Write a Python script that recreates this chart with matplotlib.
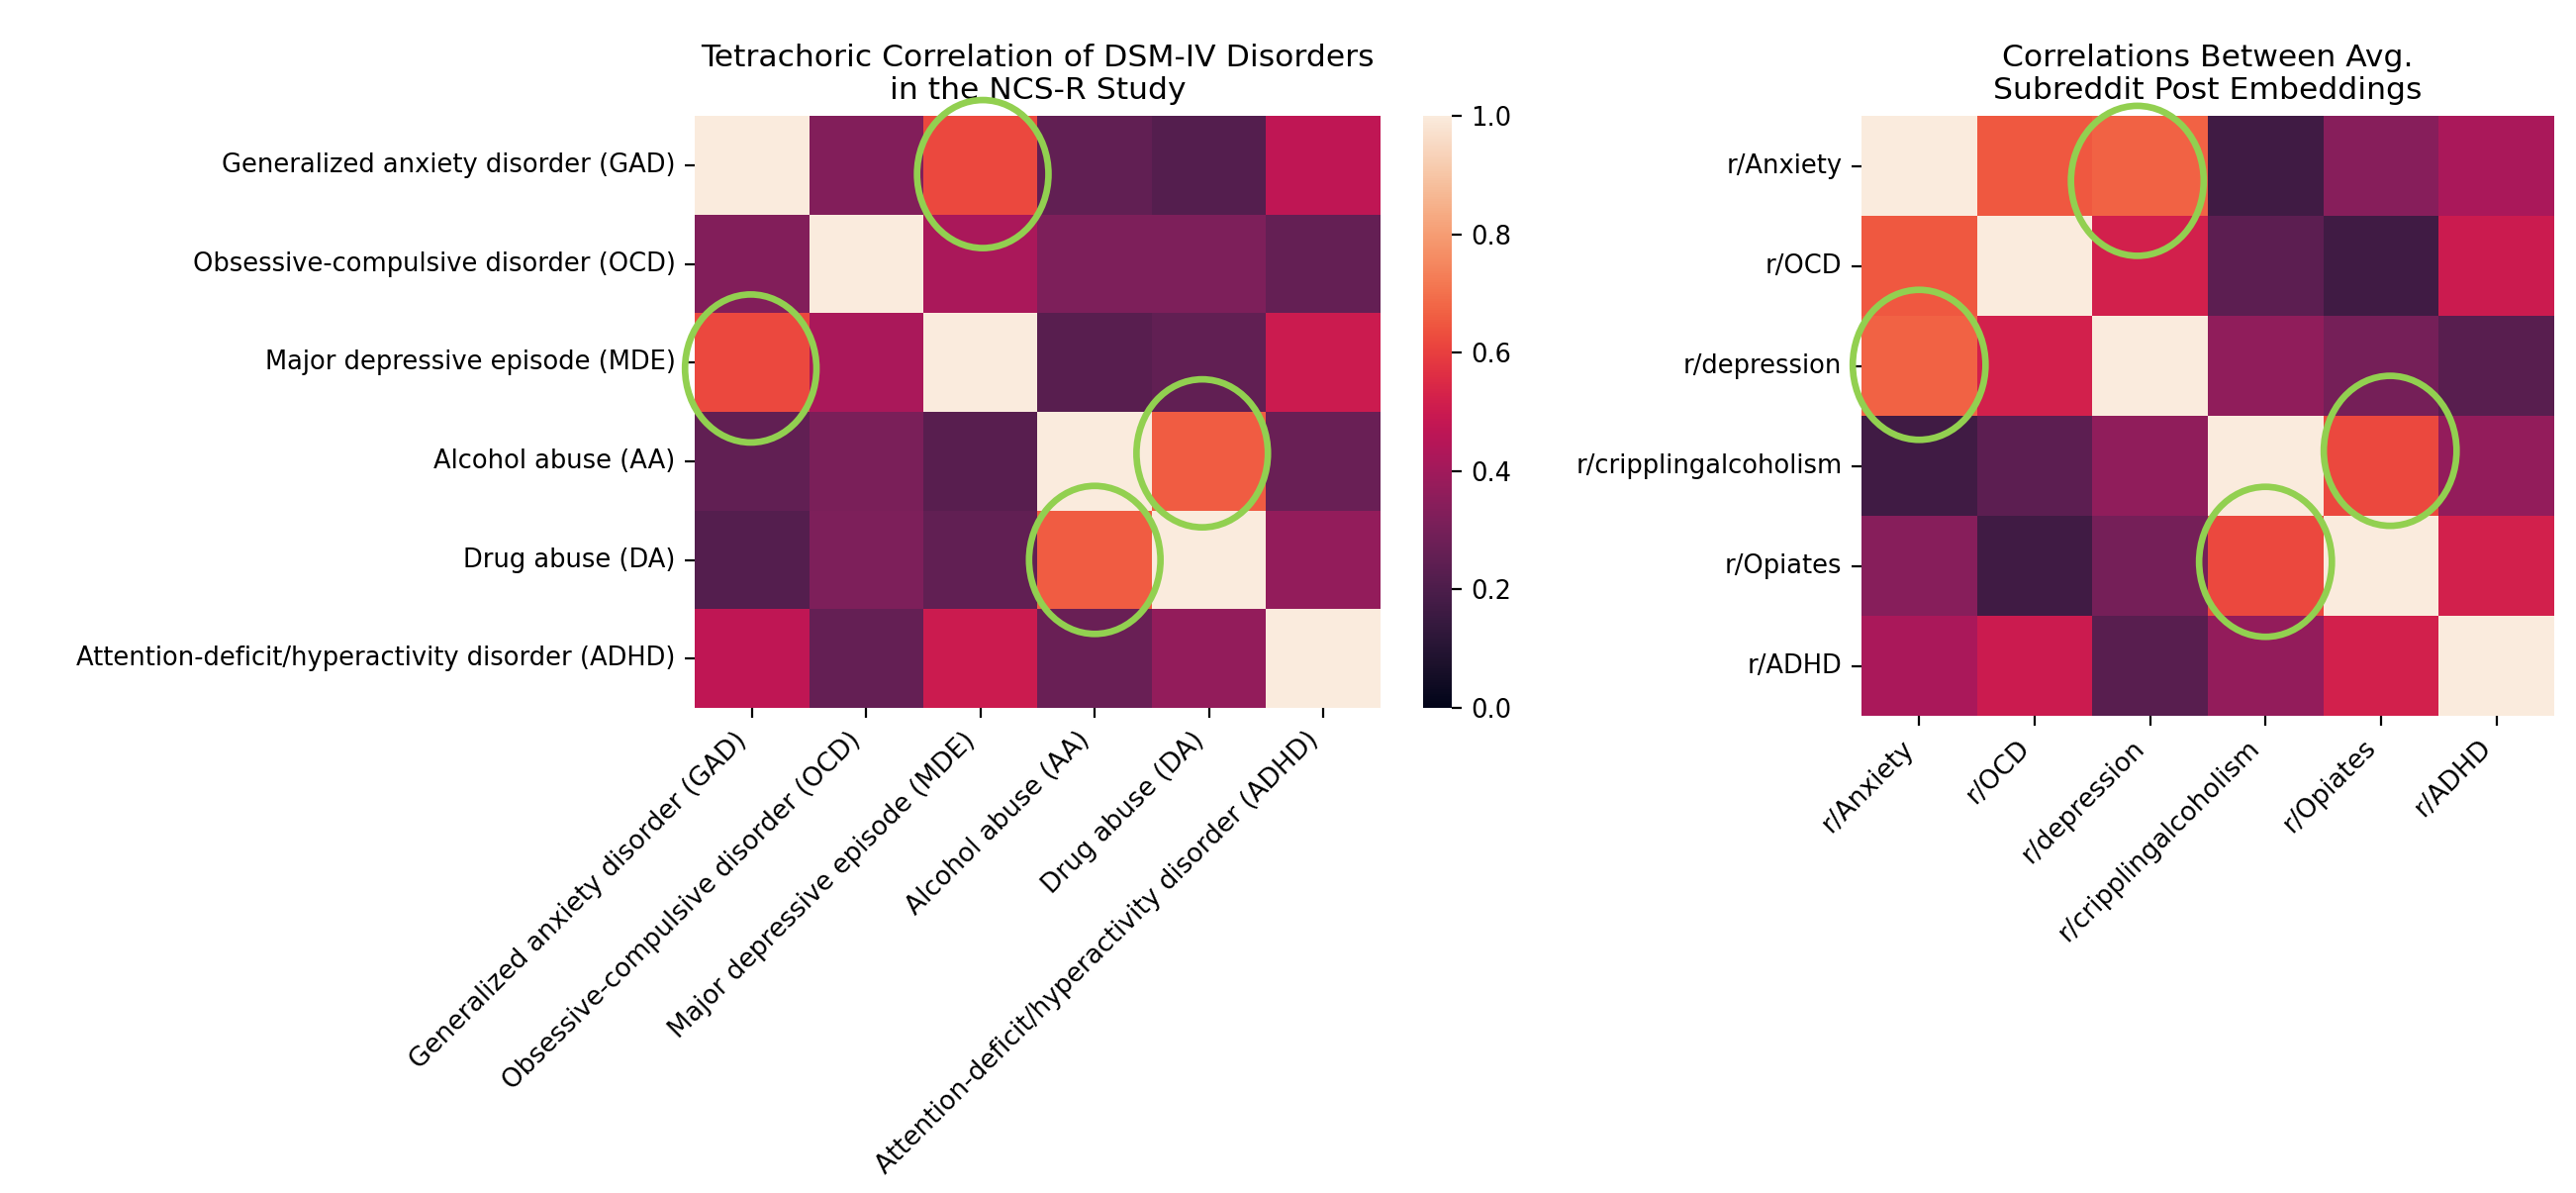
import numpy as np
import matplotlib
matplotlib.use("Agg")
import matplotlib.pyplot as plt
import seaborn as sns
from matplotlib.patches import Ellipse

# labels
dsm_labels = ["Generalized anxiety disorder (GAD)",
              "Obsessive-compulsive disorder (OCD)",
              "Major depressive episode (MDE)",
              "Alcohol abuse (AA)",
              "Drug abuse (DA)",
              "Attention-deficit/hyperactivity disorder (ADHD)"]
sub_labels = ["r/Anxiety", "r/OCD", "r/depression",
              "r/cripplingalcoholism", "r/Opiates", "r/ADHD"]

# tetrachoric correlations
dsm_corr = np.array([
    [1.00, 0.33, 0.62, 0.25, 0.22, 0.47],
    [0.33, 1.00, 0.42, 0.32, 0.32, 0.26],
    [0.62, 0.42, 1.00, 0.23, 0.25, 0.50],
    [0.25, 0.31, 0.23, 1.00, 0.66, 0.27],
    [0.22, 0.32, 0.25, 0.66, 1.00, 0.37],
    [0.47, 0.26, 0.50, 0.27, 0.37, 1.00],
])

# subreddit embedding correlations
sub_corr = np.array([
    [1.00, 0.65, 0.67, 0.17, 0.34, 0.42],
    [0.65, 1.00, 0.52, 0.24, 0.17, 0.50],
    [0.67, 0.52, 1.00, 0.36, 0.30, 0.23],
    [0.17, 0.24, 0.36, 1.00, 0.62, 0.37],
    [0.34, 0.17, 0.30, 0.62, 1.00, 0.52],
    [0.42, 0.50, 0.23, 0.37, 0.52, 1.00],
])

# highlighted cells (col, row) for the green circles
left_marks = [(2.52, 0.59), (0.49, 2.56), (4.44, 3.42), (3.50, 4.50)]
right_marks = [(2.39, 0.65), (0.50, 2.49), (4.58, 3.35), (3.50, 4.46)]

plt.rcParams['xtick.labelsize'] = 9.5
plt.rcParams['ytick.labelsize'] = 9.25
plt.rcParams['axes.titlesize'] = 11.3

fig = plt.figure(figsize=(13.015, 6.025), dpi=200)
ax1 = fig.add_axes([0.2697, 0.4066, 0.2662, 0.4963])
cax = fig.add_axes([0.5524, 0.4066, 0.0111, 0.4963])
ax2 = fig.add_axes([0.7226, 0.4000, 0.2689, 0.5029])

sns.heatmap(dsm_corr, ax=ax1, cbar_ax=cax, vmin=0, vmax=1,
            xticklabels=dsm_labels, yticklabels=dsm_labels)
sns.heatmap(sub_corr, ax=ax2, cbar=False, vmin=0, vmax=1,
            xticklabels=sub_labels, yticklabels=sub_labels)

ax1.set_title("Tetrachoric Correlation of DSM-IV Disorders\nin the NCS-R Study")
ax2.set_title("Correlations Between Avg.\nSubreddit Post Embeddings")

for ax, marks in [(ax1, left_marks), (ax2, right_marks)]:
    ax.set_xticklabels(ax.get_xticklabels(), rotation=45, ha="right")
    ax.set_yticklabels(ax.get_yticklabels(), rotation=0)
    for x, y in marks:
        e = Ellipse((x, y), 1.15, 1.5, fill=False, edgecolor="#92d050",
                    linewidth=2.4, clip_on=False, zorder=5)
        ax.add_patch(e)

fig.savefig("out.png", dpi=200)
